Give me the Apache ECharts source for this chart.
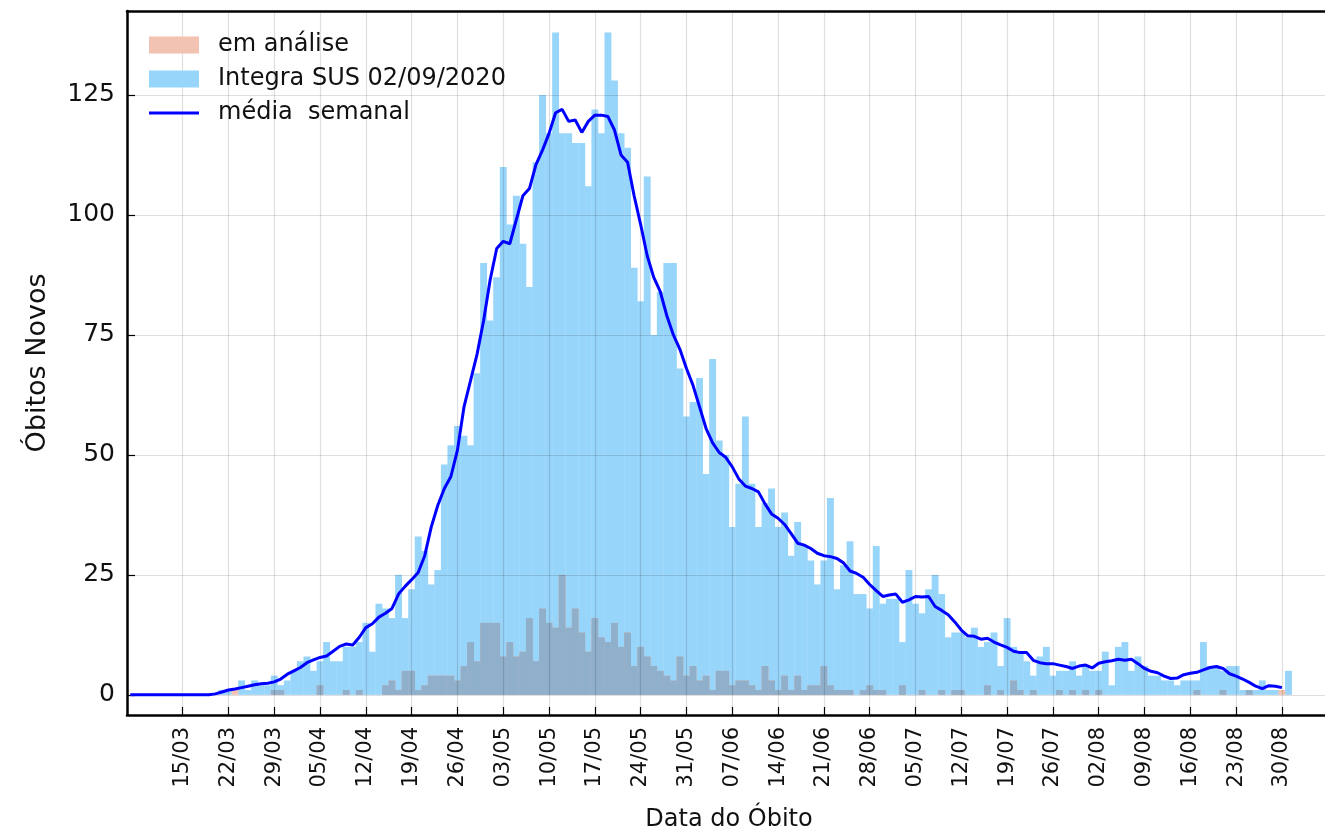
<!DOCTYPE html>
<html>
<head>
<meta charset="utf-8">
<title>Óbitos Novos</title>
<script src="https://cdn.jsdelivr.net/npm/echarts@6/dist/echarts.min.js"></script>
<style>
html, body { margin: 0; padding: 0; background: #fff; }
#chart { width: 1325px; height: 830px; }
</style>
</head>
<body>
<div id="chart"></div>
<script>
function pad(n) { return n < 10 ? '0' + n : '' + n; }

// um dia por categoria: 07/03/2020 ate 06/09/2020
var dias = [];
for (var i = 0; i < 184; i++) {
  var dt = new Date(2020, 2, 7 + i);
  dias.push(pad(dt.getDate()) + '/' + pad(dt.getMonth() + 1));
}

var semanas = ['15/03', '22/03', '29/03', '05/04', '12/04', '19/04', '26/04', '03/05',
  '10/05', '17/05', '24/05', '31/05', '07/06', '14/06', '21/06', '28/06', '05/07',
  '12/07', '19/07', '26/07', '02/08', '09/08', '16/08', '23/08', '30/08'];

// Integra SUS 02/09/2020 (obitos por dia)
var integraSus = [
  0, 0, 0, 0, 0, 0, 0, 0, 0, 0, 0, 0, 0, 0,
  1, 1, 0, 3, 1, 3, 2, 2, 4, 2,
  3, 5, 7, 8, 5, 7, 11, 7, 7, 10,
  10, 11, 15, 9, 19, 18, 16, 25, 16, 22,
  33, 30, 23, 26, 48, 52, 56, 54, 52, 67,
  90, 78, 87, 110, 98, 104, 94, 85, 111, 125,
  117, 138, 117, 117, 115, 115, 106, 122, 117, 138,
  128, 117, 114, 89, 82, 108, 75, 84, 90, 90,
  68, 58, 61, 66, 46, 70, 53, 50, 35, 44,
  58, 44, 35, 40, 43, 35, 38, 29, 36, 31,
  28, 23, 28, 41, 22, 27, 32, 21, 21, 18,
  31, 19, 20, 20, 11, 26, 19, 17, 22, 25,
  21, 12, 13, 13, 12, 14, 10, 11, 13, 6,
  16, 10, 9, 7, 4, 8, 10, 4, 5, 5,
  7, 4, 6, 5, 5, 9, 2, 10, 11, 5,
  8, 6, 4, 4, 3, 3, 2, 3, 3, 3,
  11, 6, 6, 5, 6, 6, 1, 1, 1, 3,
  1, 1, 0, 5, 0, 0, 0, 0, 0, 0
];

// em analise
var emAnalise = [
  0, 0, 0, 0, 0, 0, 0, 0, 0, 0,
  0, 0, 0, 0, 0, 0, 1, 0, 0, 0,
  0, 0, 1, 1, 0, 0, 0, 0, 0, 2,
  0, 0, 0, 1, 0, 1, 0, 0, 0, 2,
  3, 1, 5, 5, 1, 2, 4, 4, 4, 4,
  3, 6, 11, 7, 15, 15, 15, 8, 11, 8,
  9, 16, 7, 18, 15, 14, 25, 14, 18, 13,
  9, 16, 12, 11, 15, 10, 13, 6, 10, 8,
  6, 5, 4, 3, 8, 4, 6, 3, 4, 1,
  5, 5, 2, 3, 3, 2, 1, 6, 3, 1,
  4, 1, 4, 1, 2, 2, 6, 2, 1, 1,
  1, 0, 1, 2, 1, 1, 0, 0, 2, 0,
  0, 1, 0, 0, 1, 0, 1, 1, 0, 0,
  0, 2, 0, 1, 0, 3, 1, 0, 1, 0,
  0, 0, 1, 0, 1, 0, 1, 0, 1, 0,
  0, 0, 0, 0, 0, 0, 0, 0, 0, 0,
  0, 0, 0, 1, 0, 0, 0, 1, 0, 0,
  0, 1, 0, 0, 0, 0, 1, 0, 0, 0,
  0, 0, 0, 0
];

// media semanal
var mediaSemanal = [
  0, 0, 0, 0, 0, 0, 0, 0, 0, 0,
  0, 0, 0, 0.2, 0.6, 1, 1.2, 1.5, 1.8, 2.1,
  2.3, 2.4, 2.7, 3.3, 4.3, 5, 5.7, 6.7, 7.3, 7.8,
  8.1, 9.1, 10.1, 10.6, 10.4, 12, 14, 14.8, 16.2, 17,
  18, 21, 22.6, 24, 25.5, 29, 35, 39.5, 43, 45.5,
  51, 60, 65.5, 71, 78, 86.5, 93, 94.5, 94, 99,
  104, 105.5, 110.5, 113.5, 117, 121.3, 122, 119.5, 119.8, 117.2,
  119.5, 120.8, 120.8, 120.5, 117.7, 112.5, 111, 104, 98, 91.5,
  87, 84, 79, 75, 72, 68, 64.5, 60, 55.5, 52.5,
  50.5, 49.5, 47.5, 45, 43.5, 43, 42.3, 39.8, 37.7, 36.8,
  35.5, 33.6, 31.6, 31.2, 30.5, 29.5, 29, 28.8, 28.4, 27.5,
  25.8, 25.3, 24.5, 23, 21.7, 20.5, 20.8, 21, 19.3, 19.8,
  20.5, 20.4, 20.5, 18.4, 17.6, 16.7, 15.2, 13.5, 12.3, 12.2,
  11.6, 11.8, 11, 10.4, 9.9, 9.1, 8.8, 8.8, 7.2, 6.7,
  6.5, 6.5, 6.2, 5.9, 5.5, 6, 6.2, 5.6, 6.6, 6.9,
  7.1, 7.4, 7.2, 7.4, 6.5, 5.5, 4.9, 4.6, 3.9, 3.4,
  3.5, 4.2, 4.5, 4.7, 5.2, 5.7, 5.9, 5.5, 4.4, 3.9,
  3.3, 2.6, 1.8, 1.3, 1.9, 1.8, 1.5, null, null, null,
  null, null, null, null
];

// parte comum das duas barras (aparece acinzentada)
var sobreposto = integraSus.map(function (v, k) { return Math.min(v, emAnalise[k]); });

function semanal(idx, value) { return semanas.indexOf(value) >= 0; }

var corTexto = '#111';
var linhaGrade = { color: 'rgba(0,0,0,0.13)', width: 1.2 };

var chart = echarts.init(document.getElementById('chart'));

var option = {
  animation: false,
  textStyle: { fontFamily: 'DejaVu Sans' },
  grid: { left: 127, top: 11, width: 1204, bottom: 115, outerBoundsMode: 'none', containLabel: false },
  legend: {
    orient: 'vertical',
    left: 149,
    top: 33,
    padding: 0,
    itemWidth: 50,
    itemHeight: 17,
    itemGap: 10,
    selectedMode: false,
    data: [
      { name: 'em análise', icon: 'rect' },
      { name: 'Integra SUS 02/09/2020', icon: 'rect' },
      { name: 'média  semanal', icon: 'path://M0,0L50,0L50,3L0,3Z', symbolKeepAspect: true }
    ],
    textStyle: { fontSize: 24, lineHeight: 24, color: corTexto, padding: [0, 0, 0, 14] }
  },
  xAxis: [{
    type: 'category',
    data: dias,
    boundaryGap: true,
    z: 3,
    axisLine: { show: true, onZero: false, lineStyle: { color: '#000', width: 2.5 } },
    axisTick: { show: true, inside: true, length: 8, alignWithLabel: true, interval: semanal,
      lineStyle: { color: '#000', width: 1.2 } },
    axisLabel: { interval: semanal, rotate: 90, fontSize: 21, color: corTexto, margin: 12 },
    splitLine: { show: true, interval: semanal, alignWithLabel: true, lineStyle: linhaGrade },
    name: 'Data do Óbito',
    nameLocation: 'middle',
    nameGap: 93,
    nameTextStyle: { fontSize: 24, color: corTexto }
  }, {
    // borda superior
    type: 'category',
    data: dias,
    position: 'top',
    z: 3,
    axisLine: { show: true, onZero: false, lineStyle: { color: '#000', width: 2.5 } },
    axisTick: { show: false },
    axisLabel: { show: false },
    splitLine: { show: false }
  }],
  yAxis: {
    type: 'value',
    min: -4.2,
    max: 142.5,
    minInterval: 25,
    maxInterval: 25,
    z: 3,
    axisLine: { show: true, onZero: false, lineStyle: { color: '#000', width: 2.5 } },
    axisTick: { show: true, inside: true, length: 8, lineStyle: { color: '#000', width: 1.2 } },
    axisLabel: { fontSize: 25, color: corTexto, margin: 12, showMinLabel: false, showMaxLabel: false },
    splitLine: { show: true, lineStyle: linhaGrade },
    name: 'Óbitos Novos',
    nameLocation: 'middle',
    nameGap: 76,
    nameTextStyle: { fontSize: 27, color: corTexto }
  },
  series: [
    {
      name: 'Integra SUS 02/09/2020',
      type: 'bar',
      data: integraSus,
      barWidth: 6.9,
      barGap: '-100%',
      itemStyle: { color: '#98d5fb' }
    },
    {
      name: 'em análise',
      type: 'bar',
      data: emAnalise,
      barWidth: 6.9,
      barGap: '-100%',
      itemStyle: { color: '#f2c2b2' }
    },
    {
      name: 'sobreposto',
      type: 'bar',
      data: sobreposto,
      barWidth: 6.9,
      barGap: '-100%',
      itemStyle: { color: '#8fafca' }
    },
    {
      name: 'média  semanal',
      type: 'line',
      data: mediaSemanal,
      z: 5,
      symbol: 'none',
      lineStyle: { color: '#0000ff', width: 3 },
      itemStyle: { color: '#0000ff' }
    }
  ]
};

chart.setOption(option);
</script>
</body>
</html>
